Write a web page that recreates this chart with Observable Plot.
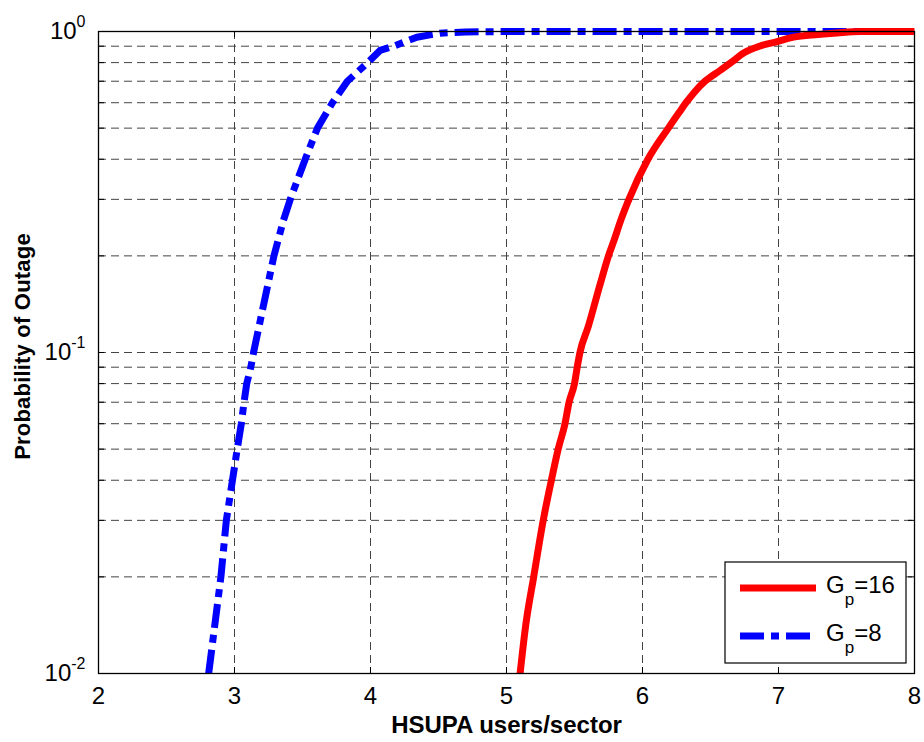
<!DOCTYPE html>
<html>
<head>
<meta charset="utf-8">
<script src="https://cdn.jsdelivr.net/npm/d3@7"></script>
<script src="https://cdn.jsdelivr.net/npm/@observablehq/plot@0.6"></script>
<style>
  body { margin: 0; background: #fff; }
  #chart svg { display: block; }
  #chart svg g[aria-label="x-axis tick label"] text,
  #chart svg g[aria-label="y-axis tick label"] text { font-size: 24px; }
</style>
</head>
<body>
<div id="chart"></div>
<script>
// ---- data ----
const xTicks = [2, 3, 4, 5, 6, 7, 8];
const xGrid = [3, 4, 5, 6, 7];
const yTicks = [0.01, 0.1, 1];
const yExponents = ["-2", "-1", "0"];
const yGrid = [0.01, 0.02, 0.03, 0.04, 0.05, 0.06, 0.07, 0.08, 0.09,
               0.1, 0.2, 0.3, 0.4, 0.5, 0.6, 0.7, 0.8, 0.9, 1];

// Gp = 8 (blue, dash-dot)
const gp8X = [2.81, 2.90, 2.94, 2.985, 3.02, 3.05, 3.07, 3.09, 3.12, 3.14,
              3.29, 3.36, 3.41, 3.52, 3.61, 3.72, 3.83, 3.98, 4.07, 4.17,
              4.34, 4.51, 4.70, 5.00, 8.00];
const gp8P = [0.01, 0.02, 0.03, 0.04, 0.05, 0.06, 0.07, 0.08, 0.09, 0.1,
              0.2, 0.258, 0.3, 0.4, 0.5, 0.6, 0.7, 0.8, 0.873, 0.9,
              0.96, 0.988, 0.997, 1, 1];

// Gp = 16 (red, solid)
const gp16X = [5.10, 5.14, 5.20, 5.27, 5.33, 5.38, 5.43, 5.46, 5.50, 5.52,
               5.54, 5.60, 5.69, 5.75, 5.79, 5.84, 5.90, 6.04, 6.19, 6.27,
               6.32, 6.38, 6.46, 6.57, 6.65, 6.75, 6.86, 6.99, 7.11, 7.29,
               7.43, 7.60, 8.00];
const gp16P = [0.01, 0.014, 0.02, 0.03, 0.04, 0.05, 0.06, 0.07, 0.08, 0.09,
               0.1, 0.12, 0.164, 0.2, 0.223, 0.258, 0.30, 0.4, 0.5, 0.56,
               0.6, 0.646, 0.7, 0.756, 0.8, 0.86, 0.9, 0.93, 0.96, 0.979,
               0.99, 1, 1];

const legendBase = ["G", "G"];
const legendSub = ["p", "p"];
const legendRest = ["=16", "=8"];
const seriesColors = ["#ff0000", "#0000ff"];
const xLabel = "HSUPA users/sector";
const yLabel = "Probability of Outage";

// ---- build ----
const gp8 = gp8X.map((x, i) => ({x, p: gp8P[i]}));
const gp16 = gp16X.map((x, i) => ({x, p: gp16P[i]}));
const FONT = '"Liberation Sans", Arial, Helvetica, sans-serif';
const gridStyle = {stroke: "#444", strokeOpacity: 1, strokeWidth: 1, strokeDasharray: "8,5"};

const chart = Plot.plot({
  width: 924,
  height: 742,
  marginLeft: 98,
  marginRight: 10,
  marginTop: 31,
  marginBottom: 69,
  style: {fontFamily: FONT, background: "#fff", color: "#000"},
  x: {domain: [2, 8]},
  y: {type: "log", domain: [0.01, 1]},
  marks: [
    Plot.gridX(xGrid, gridStyle),
    Plot.gridY(yGrid, gridStyle),
    Plot.ruleX(xTicks, {stroke: "#000", insetBottom: 636}),
    Plot.ruleX(xTicks, {stroke: "#000", insetTop: 636}),
    Plot.ruleY(yGrid, {stroke: "#000", insetRight: 810}),
    Plot.ruleY(yGrid, {stroke: "#000", insetLeft: 810}),
    Plot.line(gp8, {x: "x", y: "p", stroke: seriesColors[1], strokeWidth: 7,
      strokeDasharray: "24,7,8,7", strokeLinecap: "butt", strokeLinejoin: "round"}),
    Plot.line(gp16, {x: "x", y: "p", stroke: seriesColors[0], strokeWidth: 7,
      strokeLinecap: "butt", strokeLinejoin: "round", curve: "monotone-x"}),
    Plot.frame({stroke: "#000", strokeWidth: 1.3}),
    Plot.axisX(xTicks, {tickSize: 0, tickPadding: 13, fontSize: 24, label: null, tickFormat: d => String(d)}),
    Plot.axisY(yTicks, {tickSize: 0, tickPadding: 13, fontSize: 24, label: null,
      tickFormat: d => "10^" + yExponents[yTicks.indexOf(d)]}),
    Plot.text([xLabel], {frameAnchor: "bottom", textAnchor: "middle", lineAnchor: "middle",
      dy: 52, fontSize: 24, fontWeight: "bold", fill: "#000"}),
    Plot.text([yLabel], {frameAnchor: "left", textAnchor: "middle", lineAnchor: "middle",
      rotate: -90, dx: -76, dy: -6, fontSize: 22, fontWeight: "bold", fill: "#000"})
  ]
});

document.getElementById("chart").appendChild(chart);

const svg = d3.select(chart);

// tick label font sizes
svg.selectAll('[aria-label="x-axis tick label"], [aria-label="y-axis tick label"]')
  .attr("font-size", 24);

// superscript exponents on y tick labels
svg.selectAll('[aria-label="y-axis tick label"] text').each(function() {
  const t = d3.select(this);
  const parts = t.text().split("^");
  t.text(parts[0]);
  t.append("tspan").attr("dy", -12).style("font-size", "16px").text(parts[1]);
});

// letter spacing on y title
svg.selectAll("text").filter(function() {
  return d3.select(this).text() === yLabel;
}).attr("letter-spacing", "0.2px");

// legend box
const lg = svg.append("g").attr("font-family", FONT).attr("fill", "#000")
  .attr("text-anchor", "start");
lg.append("rect").attr("x", 725).attr("y", 562).attr("width", 181).attr("height", 101)
  .attr("fill", "#fff").attr("stroke", "#000").attr("stroke-width", 1.2);
const rows = [588, 636];
rows.forEach((ry, i) => {
  lg.append("line").attr("x1", 740).attr("x2", 816).attr("y1", ry).attr("y2", ry)
    .attr("stroke", seriesColors[i]).attr("stroke-width", 7)
    .attr("stroke-dasharray", i === 1 ? "24,7,8,7" : null);
  const t = lg.append("text").attr("x", 826).attr("y", ry + 5).attr("font-size", 24)
    .attr("text-anchor", "start");
  t.append("tspan").text(legendBase[i]);
  t.append("tspan").attr("dy", 12).attr("font-size", 17).text(legendSub[i]);
  t.append("tspan").attr("dy", -12).text(legendRest[i]);
});
</script>
</body>
</html>
